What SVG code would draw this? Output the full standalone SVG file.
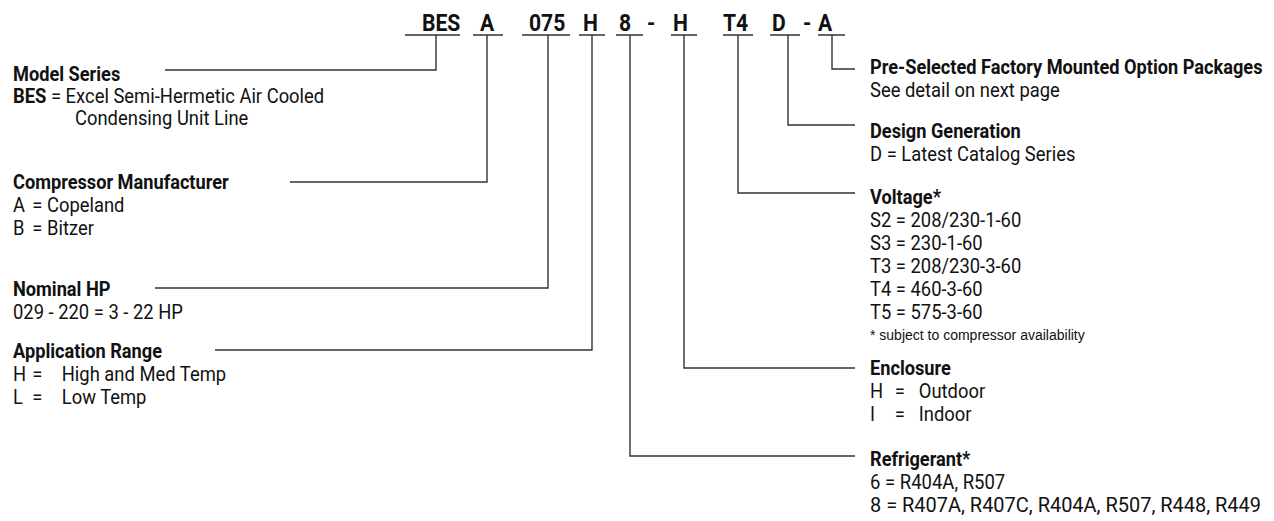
<svg xmlns="http://www.w3.org/2000/svg" width="1274" height="521" viewBox="0 0 1274 521">
<style>
.t{font-family:Roboto,"Liberation Sans",sans-serif;font-size:20px;fill:#111}
.b{font-weight:bold}
.code{font-family:Roboto,"Liberation Sans",sans-serif;font-size:24px;font-weight:bold;fill:#111}
.sm{font-family:"Liberation Sans",Arial,sans-serif;font-size:14px;fill:#111}
.ln{fill:none;stroke:#333;stroke-width:1.4}
</style>
<rect width="1274" height="521" fill="#fff"/>
<g id="code">
<text class="code" transform="translate(422,31) scale(0.88,1)">BES</text>
<text class="code" transform="translate(480,31) scale(0.88,1)">A</text>
<text class="code" transform="translate(529,31) scale(0.88,1)">075</text>
<text class="code" transform="translate(583,31) scale(0.88,1)">H</text>
<text class="code" transform="translate(619,31) scale(0.88,1)">8</text>
<text class="code" transform="translate(647,31) scale(0.88,1)">-</text>
<text class="code" transform="translate(673,31) scale(0.88,1)">H</text>
<text class="code" transform="translate(723,31) scale(0.88,1)">T4</text>
<text class="code" transform="translate(772,31) scale(0.88,1)">D</text>
<text class="code" transform="translate(803,31) scale(0.88,1)">-</text>
<text class="code" transform="translate(818,31) scale(0.88,1)">A</text>
</g>
<g id="connectors">
<path class="ln" d="M405,35H460M436,35V70H165"/>
<path class="ln" d="M473,35H503M487,35V182H290"/>
<path class="ln" d="M522,35H570M548,35V288H155"/>
<path class="ln" d="M579,35H605M592,35V350H215"/>
<path class="ln" d="M616,35H643M630,35V456H855"/>
<path class="ln" d="M671,35H697M684,35V368H855"/>
<path class="ln" d="M723,35H753M738,35V193H855"/>
<path class="ln" d="M770,35H800M788,35V125H855"/>
<path class="ln" d="M818,35H845M832,35V69H855"/>
</g>
<g id="model-series">
<text class="t b" transform="translate(13,81) scale(0.91,1)">Model Series</text>
<text class="t" transform="translate(13,103) scale(0.92,1)"><tspan class="b">BES</tspan> = Excel Semi-Hermetic Air Cooled</text>
<text class="t" transform="translate(75,125) scale(0.92,1)">Condensing Unit Line</text>
</g>
<g id="compressor-manufacturer">
<text class="t b" transform="translate(13,189) scale(0.91,1)">Compressor Manufacturer</text>
<text class="t" transform="translate(13,212) scale(0.92,1)">A<tspan x="21">= Copeland</tspan></text>
<text class="t" transform="translate(13,235) scale(0.92,1)">B<tspan x="21">= Bitzer</tspan></text>
</g>
<g id="nominal-hp">
<text class="t b" transform="translate(13,296) scale(0.91,1)">Nominal HP</text>
<text class="t" transform="translate(13,319) scale(0.92,1)">029 - 220 = 3 - 22 HP</text>
</g>
<g id="application-range">
<text class="t b" transform="translate(13,358) scale(0.91,1)">Application Range</text>
<text class="t" transform="translate(13,381) scale(0.92,1)">H<tspan x="21">=</tspan><tspan x="53">High and Med Temp</tspan></text>
<text class="t" transform="translate(13,404) scale(0.92,1)">L<tspan x="21">=</tspan><tspan x="53">Low Temp</tspan></text>
</g>
<g id="option-packages">
<text class="t b" transform="translate(870,74) scale(0.91,1)">Pre-Selected Factory Mounted Option Packages</text>
<text class="t" transform="translate(870,97) scale(0.92,1)">See detail on next page</text>
</g>
<g id="design-generation">
<text class="t b" transform="translate(870,138) scale(0.91,1)">Design Generation</text>
<text class="t" transform="translate(870,161) scale(0.92,1)">D = Latest Catalog Series</text>
</g>
<g id="voltage">
<text class="t b" transform="translate(870,204) scale(0.91,1)">Voltage*</text>
<text class="t" transform="translate(870,227) scale(0.92,1)">S2 = 208/230-1-60</text>
<text class="t" transform="translate(870,250) scale(0.92,1)">S3 = 230-1-60</text>
<text class="t" transform="translate(870,273) scale(0.92,1)">T3 = 208/230-3-60</text>
<text class="t" transform="translate(870,296) scale(0.92,1)">T4 = 460-3-60</text>
<text class="t" transform="translate(870,319) scale(0.92,1)">T5 = 575-3-60</text>
<text class="sm" x="870" y="340">* subject to compressor availability</text>
</g>
<g id="enclosure">
<text class="t b" transform="translate(870,375) scale(0.91,1)">Enclosure</text>
<text class="t" transform="translate(870,398) scale(0.92,1)">H<tspan x="27">=</tspan><tspan x="53">Outdoor</tspan></text>
<text class="t" transform="translate(870,421) scale(0.92,1)">I<tspan x="27">=</tspan><tspan x="53">Indoor</tspan></text>
</g>
<g id="refrigerant">
<text class="t b" transform="translate(870,466) scale(0.91,1)">Refrigerant*</text>
<text class="t" transform="translate(870,489) scale(0.92,1)" textLength="147" lengthAdjust="spacingAndGlyphs">6 = R404A, R507</text>
<text class="t" transform="translate(870,512) scale(0.92,1)" textLength="425" lengthAdjust="spacingAndGlyphs">8 = R407A, R407C, R404A, R507, R448, R449</text>
</g>
</svg>
